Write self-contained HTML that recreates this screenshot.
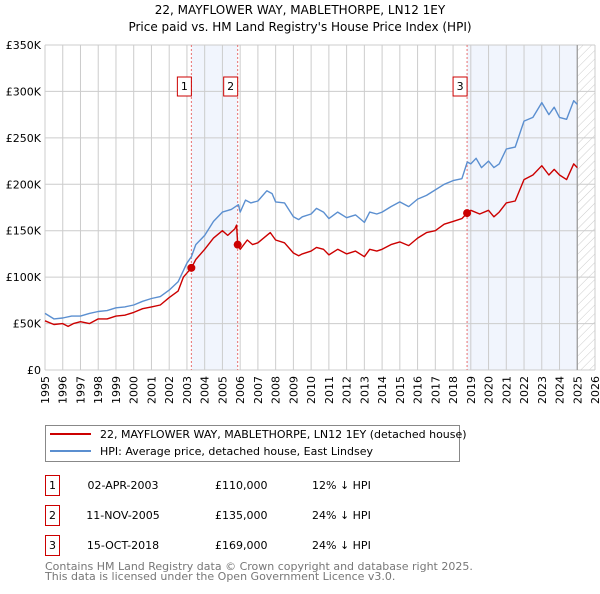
<!DOCTYPE html>
<html><head><meta charset="utf-8"><style>
body{margin:0;background:#fff;width:600px;height:590px;overflow:hidden;font-family:"DejaVu Sans","Liberation Sans",sans-serif;}
svg text{font-family:"DejaVu Sans","Liberation Sans",sans-serif;}
</style></head><body>
<svg id="chart" width="600" height="590" xmlns="http://www.w3.org/2000/svg">
<defs><pattern id="hatch" width="6" height="6" patternUnits="userSpaceOnUse" patternTransform="rotate(45)"><line x1="0" y1="0" x2="0" y2="6" stroke="#ccc" stroke-width="1"/></pattern></defs>
<text x="300" y="14" text-anchor="middle" font-size="12">22, MAYFLOWER WAY, MABLETHORPE, LN12 1EY</text>
<text x="300" y="31" text-anchor="middle" font-size="12">Price paid vs. HM Land Registry's House Price Index (HPI)</text>
<g id="plot"></g>
<g>
<rect x="45.5" y="425.5" width="414" height="36" fill="#fff" stroke="#888"/>
<line x1="50" y1="434" x2="91" y2="434" stroke="#cc0000" stroke-width="2"/>
<text x="100" y="438" font-size="11">22, MAYFLOWER WAY, MABLETHORPE, LN12 1EY (detached house)</text>
<line x1="50" y1="451" x2="91" y2="451" stroke="#5b8fd0" stroke-width="2"/>
<text x="100" y="455" font-size="11">HPI: Average price, detached house, East Lindsey</text>
</g>
<g id="table" font-size="11"></g>
<text x="45" y="570" font-size="11" fill="#777">Contains HM Land Registry data © Crown copyright and database right 2025.</text>
<text x="45" y="580" font-size="11" fill="#777">This data is licensed under the Open Government Licence v3.0.</text>
</svg>
<script>
const hpiYears=[1995,1995.5,1996,1996.5,1997,1997.5,1998,1998.5,1999,1999.5,2000,2000.5,2001,2001.5,2002,2002.5,2003,2003.25,2003.5,2004,2004.5,2005,2005.5,2005.9,2006,2006.3,2006.6,2007,2007.5,2007.8,2008,2008.5,2009,2009.3,2009.5,2010,2010.3,2010.7,2011,2011.5,2012,2012.5,2013,2013.3,2013.7,2014,2014.5,2015,2015.5,2016,2016.5,2017,2017.5,2018,2018.5,2018.8,2019,2019.3,2019.6,2020,2020.3,2020.6,2021,2021.5,2022,2022.5,2023,2023.4,2023.7,2024,2024.4,2024.8,2025];
const hpiValues=[61,55,56,58,58,61,63,64,67,68,70,74,77,79,86,95,115,122,135,145,160,170,173,178,170,183,180,182,193,190,181,180,165,162,165,168,174,170,163,170,164,167,159,170,168,170,176,181,176,184,188,194,200,204,206,224,222,228,218,225,218,222,238,240,268,272,288,275,283,272,270,290,286];
const priceYears=[1995,1995.5,1996,1996.3,1996.6,1997,1997.5,1998,1998.5,1999,1999.5,2000,2000.5,2001,2001.5,2002,2002.5,2002.8,2003.25,2003.5,2004,2004.5,2005,2005.3,2005.7,2005.8,2005.86,2006,2006.4,2006.7,2007,2007.5,2007.7,2008,2008.5,2009,2009.3,2009.5,2010,2010.3,2010.7,2011,2011.5,2012,2012.5,2013,2013.3,2013.7,2014,2014.5,2015,2015.5,2016,2016.5,2017,2017.5,2018,2018.5,2018.79,2019,2019.5,2020,2020.3,2020.6,2021,2021.5,2022,2022.5,2023,2023.4,2023.7,2024,2024.4,2024.8,2025];
const priceValues=[53,49,50,47,50,52,50,55,55,58,59,62,66,68,70,78,85,100,110,119,130,142,150,145,152,156,135,130,140,135,137,145,148,140,137,126,123,125,128,132,130,124,130,125,128,122,130,128,130,135,138,134,142,148,150,157,160,163,169,172,168,172,165,170,180,182,205,210,220,210,216,210,205,222,218];
const saleYears=[2003.25,2005.86,2018.79];
const saleValues=[110,135,169];
const saleLabels=["1","2","3"];
const saleDates=["02-APR-2003","11-NOV-2005","15-OCT-2018"];
const salePrices=["£110,000","£135,000","£169,000"];
const saleDiffs=["12% ↓ HPI","24% ↓ HPI","24% ↓ HPI"];
const yTicks=[0,50,100,150,200,250,300,350];
const yTickLabels=["£0","£50K","£100K","£150K","£200K","£250K","£300K","£350K"];
const xTicks=[];for(let y=1995;y<=2026;y++)xTicks.push(y);
const dataEnd=2025.0;

const X0=45,X1=595,Y0=370,Y1=45;
const xs=y=>X0+(y-1995)/(2026-1995)*(X1-X0);
const ys=v=>Y0-v/350*(Y0-Y1);
const NS="http://www.w3.org/2000/svg";
const plot=document.getElementById('plot');
function mk(tag,attrs,parent){const e=document.createElementNS(NS,tag);for(const k in attrs)e.setAttribute(k,attrs[k]);(parent||plot).appendChild(e);return e;}

let s1=mk('rect',{x:xs(saleYears[0]),y:Y1,width:xs(saleYears[1])-xs(saleYears[0]),height:Y0-Y1,fill:'#f1f5fd'});


let s2=mk('rect',{x:xs(saleYears[2]),y:Y1,width:xs(dataEnd)-xs(saleYears[2]),height:Y0-Y1,fill:'#f1f5fd'});


let h=mk('rect',{x:xs(dataEnd),y:Y1,width:X1-xs(dataEnd),height:Y0-Y1,fill:'url(#hatch)'});



xTicks.forEach(t=>{
  let l=mk('line',{x1:xs(t),x2:xs(t),y1:Y1,y2:Y0,stroke:'#ccc','stroke-width':1});
  
  
  let tx=mk('text',{x:0,y:0,'font-size':11,'text-anchor':'end',transform:`translate(${xs(t)+4},${Y0+6}) rotate(-90)`});
  tx.textContent=t;
  
  
});
yTicks.forEach((t,i)=>{
  let l=mk('line',{x1:X0,x2:X1,y1:ys(t),y2:ys(t),stroke:'#ccc','stroke-width':1});
  
  
  let tx=mk('text',{x:X0-4,y:ys(t)+4,'font-size':11,'text-anchor':'end'});
  tx.textContent=yTickLabels[i];
  
  
});
let el=mk('line',{x1:xs(dataEnd),x2:xs(dataEnd),y1:Y1,y2:Y0,stroke:'#999','stroke-width':1.2});



saleYears.forEach((y,i)=>{
  let l=mk('line',{x1:xs(y),x2:xs(y),y1:Y1,y2:Y0,stroke:'#e87070','stroke-width':1,'stroke-dasharray':'2,2'});
  
  
  let g=mk('g',{});
  
  
  mk('rect',{x:xs(y)-14,y:77,width:14,height:19,fill:'#fff',stroke:'#cc0000'},g);
  let t=mk('text',{x:xs(y)-7,y:90,'font-size':11,'text-anchor':'middle'},g);t.textContent=saleLabels[i];
});

function line(yrs,vals,color,name){
  let d=yrs.map((y,i)=>(i?'L':'M')+xs(y).toFixed(1)+','+ys(vals[i]).toFixed(1)).join('');
  let p=mk('path',{d:d,fill:'none',stroke:color,'stroke-width':1.4,'stroke-linejoin':'round'});
  
  
}
line(hpiYears,hpiValues,'#5b8fd0','hpi-line');
line(priceYears,priceValues,'#cc0000','price-paid-line');
saleYears.forEach((y,i)=>{
  let c=mk('circle',{cx:xs(y),cy:ys(saleValues[i]),r:4,fill:'#cc0000'});
  
  
});

const tb=document.getElementById('table');
saleLabels.forEach((s,i)=>{
  const yy=475+i*30;
  let g=mk('g',{},tb);
  
  
  mk('rect',{x:45.5,y:yy+0.5,width:14,height:20,fill:'#fff',stroke:'#cc0000'},g);
  let a=mk('text',{x:52.5,y:yy+14,'text-anchor':'middle'},g);a.textContent=s;
  let b=mk('text',{x:123,y:yy+14,'text-anchor':'middle'},g);b.textContent=saleDates[i];
  let c=mk('text',{x:215,y:yy+14},g);c.textContent=salePrices[i];
  let d=mk('text',{x:312,y:yy+14},g);d.textContent=saleDiffs[i];
});
</script>
</body></html>
